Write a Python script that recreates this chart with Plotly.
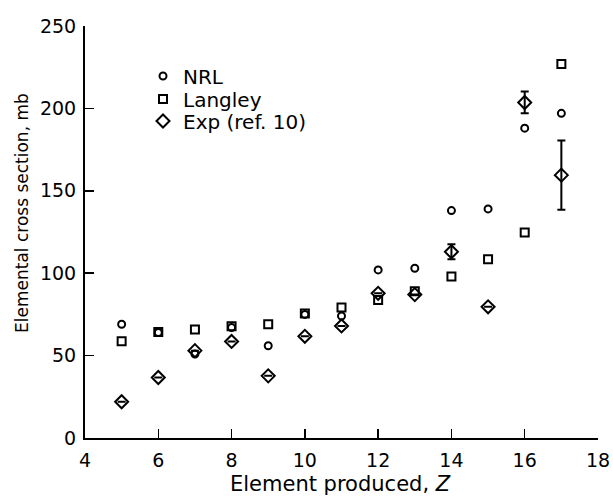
import plotly.graph_objects as go

# Element produced, Z
z_nrl = [5, 6, 7, 8, 9, 10, 11, 12, 13, 14, 15, 16, 17]
nrl = [69, 64, 51, 67, 56, 75, 74, 102, 103, 138, 139, 188, 197]

z_langley = [5, 6, 7, 8, 9, 10, 11, 12, 13, 14, 15, 16, 17]
langley = [58.7, 64.3, 65.9, 67.8, 69, 75.6, 79.2, 83.8, 89, 98, 108.4, 124.7, 227]

z_exp = [5, 6, 7, 8, 9, 10, 11, 12, 13, 14, 15, 16, 17]
exp_vals = [22, 36.7, 53, 58.6, 37.7, 61.7, 68, 87.8, 87, 113, 79.6, 203.6, 159.5]
exp_err = [None, None, None, None, None, None, None, None, None, 4.5, None, 6.6, 21]

x_ticks = [4, 6, 8, 10, 12, 14, 16, 18]
y_ticks = [0, 50, 100, 150, 200, 250]

FONT = "DejaVu Sans, Liberation Sans, Arial, sans-serif"

L, R, T, B = 85, 15, 26, 59
W, H = 613, 497
PW, PH = W - L - R, H - T - B


def px_x(x):
    return (x - L) / PW


def px_y(y):
    return (H - B - y) / PH


fig = go.Figure()
fig.add_trace(go.Scatter(
    x=z_nrl, y=nrl, mode="markers", name="NRL", legend="legend",
    marker=dict(symbol="circle-open", size=7, color="black", line=dict(width=2, color="black")),
))
fig.add_trace(go.Scatter(
    x=z_langley, y=langley, mode="markers", name="Langley", legend="legend2",
    marker=dict(symbol="square-open", size=8, color="black", line=dict(width=2, color="black")),
))
fig.add_trace(go.Scatter(
    x=z_exp, y=exp_vals, mode="markers", name="Exp (ref. 10)", legend="legend3",
    marker=dict(symbol="diamond-open", size=10, color="black", line=dict(width=2, color="black")),
    error_y=dict(type="data", array=exp_err, visible=True, color="black", thickness=2, width=4),
))

leg_common = dict(
    xanchor="left", yanchor="middle",
    font=dict(family=FONT, size=20, color="black"),
    bgcolor="rgba(0,0,0,0)", borderwidth=0, itemsizing="trace",
)
leg_x = px_x(143)

fig.update_layout(
    width=W, height=H,
    margin=dict(l=L, r=R, t=T, b=B, autoexpand=False),
    paper_bgcolor="white", plot_bgcolor="white",
    font=dict(family=FONT, size=18, color="black"),
    showlegend=True,
    legend=dict(x=leg_x, y=px_y(76), **leg_common),
    legend2=dict(x=leg_x, y=px_y(99), **leg_common),
    legend3=dict(x=leg_x, y=px_y(121), **leg_common),
    xaxis=dict(
        range=[4, 18], tickvals=x_ticks, ticktext=[str(v) for v in x_ticks],
        showline=True, linecolor="black", linewidth=2,
        ticks="inside", ticklen=9, tickwidth=1.5, tickcolor="black",
        showgrid=False, zeroline=False, mirror=False, automargin=False,
        tickfont=dict(family=FONT, size=19, color="black"),
        ticklabelstandoff=4,
    ),
    yaxis=dict(
        range=[0, 250], tickvals=y_ticks, ticktext=[str(v) for v in y_ticks],
        showline=True, linecolor="black", linewidth=2,
        ticks="inside", ticklen=9, tickwidth=1.5, tickcolor="black",
        showgrid=False, zeroline=False, mirror=False, automargin=False,
        tickfont=dict(family=FONT, size=19, color="black"),
        ticklabelstandoff=3,
    ),
    annotations=[
        dict(text="Element produced, <i>Z</i>", xref="paper", yref="paper",
             x=px_x(340), y=px_y(484), xanchor="center", yanchor="middle",
             showarrow=False, font=dict(family=FONT, size=21, color="black")),
        dict(text="Elemental cross section, mb", xref="paper", yref="paper",
             x=px_x(22), y=px_y(213), xanchor="center", yanchor="middle",
             textangle=-90, showarrow=False, font=dict(family=FONT, size=17, color="black")),
    ],
)

fig.write_html(
    "out.html",
    config={"displayModeBar": False, "staticPlot": True},
    post_script="document.body.style.margin='0';document.body.style.padding='0';document.body.style.overflow='hidden';",
)
